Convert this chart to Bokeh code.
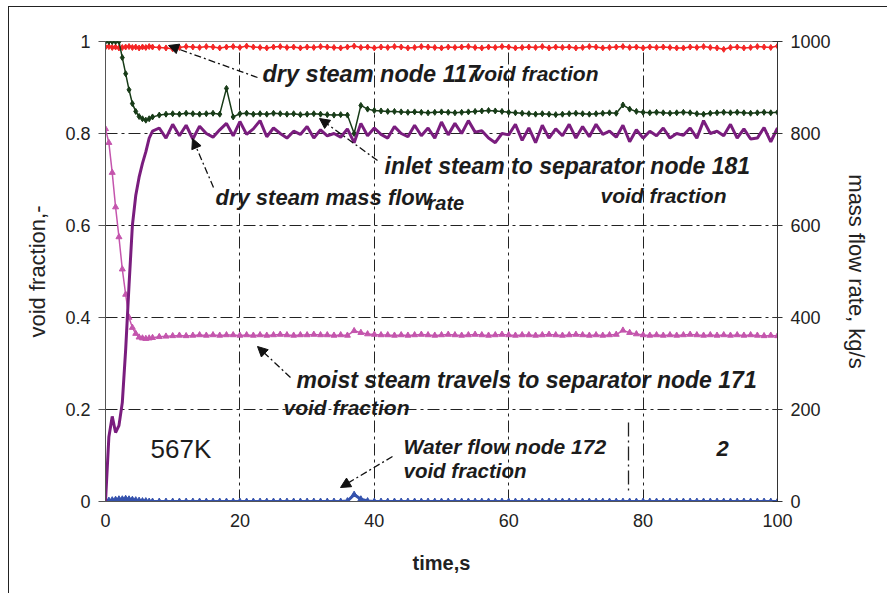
from bokeh.plotting import figure
from bokeh.models import (Range1d, LinearAxis, FixedTicker, NumeralTickFormatter,
                          Label, Arrow, NormalHead, ColumnDataSource)
from bokeh.embed import file_html
from bokeh.resources import INLINE

# ---------------- data ----------------
time_s = [0, 0.5, 1, 1.5, 2, 2.5, 3, 3.5, 4, 4.5,
          5, 5.5, 6, 6.5, 7, 8, 9, 10, 11, 12,
          13, 14, 15, 16, 17, 18, 19, 20, 21, 22,
          23, 24, 25, 26, 27, 28, 29, 30, 31, 32,
          33, 34, 35, 36, 37, 38, 39, 40, 41, 42,
          43, 44, 45, 46, 47, 48, 49, 50, 51, 52,
          53, 54, 55, 56, 57, 58, 59, 60, 61, 62,
          63, 64, 65, 66, 67, 68, 69, 70, 71, 72,
          73, 74, 75, 76, 77, 78, 79, 80, 81, 82,
          83, 84, 85, 86, 87, 88, 89, 90, 91, 92,
          93, 94, 95, 96, 97, 98, 99, 100]

dry_steam_117 = [.988, .989, .987, .988, .986, .987, .988, .989, .987, .988,
                 .986, .988, .987, .989, .988, .987, .986, .984, .987, .989,
                 .988, .987, .989, .988, .986, .988, .989, .987, .990, .988,
                 .987, .986, .988, .989, .987, .988, .986, .988, .987, .989,
                 .988, .987, .986, .988, .990, .987, .988, .986, .988, .987,
                 .989, .988, .986, .987, .989, .988, .987, .986, .988, .987,
                 .988, .989, .987, .986, .988, .987, .989, .988, .986, .987,
                 .988, .987, .989, .986, .988, .987, .988, .986, .987, .989,
                 .988, .986, .987, .988, .989, .987, .988, .986, .988, .987,
                 .988, .987, .986, .986, .988, .987, .989, .987, .986, .983,
                 .987, .988, .986, .987, .989, .988, .987, .990]

inlet_steam_181 = [1.0, 1.0, 1.0, 1.0, 1.0, .965, .930, .895, .865, .848,
                   .837, .832, .829, .832, .836, .840, .842, .843, .842, .844,
                   .843, .842, .843, .844, .842, .898, .836, .843, .844, .842,
                   .843, .842, .844, .843, .842, .843, .841, .842, .843, .842,
                   .841, .840, .841, .840, .800, .861, .853, .850, .849, .848,
                   .848, .847, .846, .847, .846, .845, .846, .847, .846, .845,
                   .846, .847, .848, .849, .850, .849, .848, .846, .845, .844,
                   .843, .842, .843, .842, .841, .842, .843, .844, .843, .842,
                   .843, .844, .845, .844, .862, .853, .848, .846, .845, .846,
                   .845, .844, .845, .846, .845, .843, .842, .844, .845, .846,
                   .845, .846, .845, .844, .845, .846, .845, .846]

moist_steam_171 = [.810, .780, .715, .640, .575, .505, .450, .400, .378, .365,
                   .357, .355, .354, .355, .356, .358, .359, .360, .361, .360,
                   .361, .362, .361, .362, .361, .362, .362, .361, .362, .361,
                   .362, .361, .362, .363, .362, .361, .362, .362, .363, .362,
                   .362, .361, .362, .361, .371, .367, .364, .363, .362, .362,
                   .361, .362, .361, .362, .363, .362, .361, .362, .363, .362,
                   .361, .362, .363, .362, .361, .362, .363, .362, .361, .362,
                   .362, .361, .362, .363, .362, .361, .362, .363, .362, .361,
                   .362, .361, .362, .363, .372, .367, .364, .362, .361, .362,
                   .361, .362, .361, .362, .363, .362, .361, .362, .361, .362,
                   .361, .362, .361, .362, .361, .360, .361, .360]

water_flow_172 = [0, .002, .003, .004, .005, .005, .006, .005, .004, .003,
                  .002, .001, .001, 0, 0, 0, 0, 0, 0, 0,
                  0, 0, 0, 0, 0, 0, 0, 0, 0, 0,
                  0, 0, 0, 0, 0, 0, 0, 0, 0, 0,
                  0, 0, 0, .001, .015, .005, .001, 0, 0, 0,
                  0, 0, 0, 0, 0, 0, 0, 0, 0, 0,
                  0, 0, 0, 0, 0, 0, 0, 0, 0, 0,
                  0, 0, 0, 0, 0, 0, 0, 0, 0, 0,
                  0, 0, 0, 0, 0, 0, 0, 0, 0, 0,
                  0, 0, 0, 0, 0, 0, 0, 0, 0, 0,
                  0, 0, 0, 0, 0, 0, 0, 0]

dry_steam_mass_flow = [0, 140, 185, 150, 165, 215, 330, 470, 600, 665,
                       705, 735, 760, 790, 805, 812, 790, 820, 795, 818,
                       788, 816, 800, 792, 808, 822, 795, 826, 798, 810,
                       828, 793, 812, 800, 790, 805, 798, 815, 790, 808,
                       795, 800, 792, 810, 780, 822, 795, 812, 798, 790,
                       815, 800, 793, 818, 795, 812, 790, 825, 797, 822,
                       800, 828, 803, 806, 790, 780, 800, 797, 820, 785,
                       812, 780, 818, 790, 810, 795, 820, 790, 815, 793,
                       820, 798, 805, 792, 818, 782, 808, 790, 805, 795,
                       812, 790, 800, 796, 812, 790, 828, 800, 805, 795,
                       820, 790, 810, 788, 790, 813, 782, 812]

x_ticks = [0, 20, 40, 60, 80, 100]
vf_ticks = [0, 0.2, 0.4, 0.6, 0.8, 1.0]
flow_ticks = [0, 200, 400, 600, 800, 1000]

# ---------------- figure ----------------
FONT = "Liberation Sans"
W, H = 879, 587
OX, OY = 9, 7                      # page offset of the figure
FL, FR, FT, FB = 105, 777, 41, 501  # plot frame on the page

p = figure(width=W, height=H, output_backend="svg", toolbar_location=None,
           x_range=Range1d(0, 100), y_range=Range1d(0, 1),
           min_border_left=FL - OX, min_border_right=W - (FR - OX),
           min_border_top=FT - OY, min_border_bottom=H - (FB - OY),
           background_fill_color="white", border_fill_color="white",
           styles={"margin-left": "8px", "margin-top": "6px",
                   "border-left": "1px solid #222", "border-top": "1px solid #222"})
p.extra_y_ranges = {"flow": Range1d(0, 1000)}
p.outline_line_color = "#888888"
p.outline_line_width = 1

def px(xp):
    return (xp - FL) / (FR - FL) * 100.0

def py(yp):
    return (FB - yp) / (FB - FT)

# axes
p.xaxis.ticker = FixedTicker(ticks=x_ticks)
p.yaxis.ticker = FixedTicker(ticks=vf_ticks)
p.yaxis.formatter = NumeralTickFormatter(format="0.[0]")
for ax in (p.xaxis[0], p.yaxis[0]):
    ax.axis_line_color = "#555555"
    ax.major_tick_line_color = "#555555"
    ax.minor_tick_line_color = None
    ax.major_label_text_font = FONT
    ax.major_label_text_font_size = "18px"
    ax.major_label_text_color = "#222222"
    ax.axis_label_text_font = FONT
    ax.axis_label_text_color = "#222222"
p.xaxis.major_tick_in = 0
p.xaxis.major_tick_out = 0
p.xaxis.major_label_standoff = 12
p.xaxis.axis_label = "time,s"
p.xaxis.axis_label_text_font_style = "bold"
p.xaxis.axis_label_text_font_size = "20px"
p.xaxis.axis_label_standoff = 22
p.yaxis.major_tick_in = 0
p.yaxis.major_tick_out = 7
p.yaxis.major_label_standoff = 8
p.yaxis.axis_label = "void fraction,-"
p.yaxis.axis_label_text_font_style = "normal"
p.yaxis.axis_label_text_font_size = "22px"
p.yaxis.axis_label_standoff = 12

rax = LinearAxis(y_range_name="flow", ticker=FixedTicker(ticks=flow_ticks),
                 axis_label="mass flow rate, kg/s")
rax.axis_line_color = "#333333"
rax.major_tick_line_color = "#333333"
rax.minor_tick_line_color = None
rax.major_tick_in = 5
rax.major_tick_out = 5
rax.major_label_standoff = 8
rax.major_label_text_font = FONT
rax.major_label_text_font_size = "18px"
rax.major_label_text_color = "#222222"
rax.axis_label_text_font = FONT
rax.axis_label_text_font_size = "22px"
rax.axis_label_text_font_style = "normal"
rax.axis_label_text_color = "#222222"
rax.axis_label_standoff = 10
p.add_layout(rax, "right")

# grid
p.xgrid.ticker = FixedTicker(ticks=[20, 40, 60, 80])
p.ygrid.ticker = FixedTicker(ticks=[0.2, 0.4, 0.6, 0.8])
for g in (p.xgrid[0], p.ygrid[0]):
    g.grid_line_color = "#222222"
    g.grid_line_dash = "12 4 3 4"
    g.grid_line_width = 1

src = ColumnDataSource(dict(t=time_s, red=dry_steam_117, green=inlet_steam_181,
                            pink=moist_steam_171, blue=water_flow_172,
                            purple=dry_steam_mass_flow))

# series
p.line("t", "blue", source=src, line_color="#3552ad", line_width=3)
p.scatter("t", "blue", source=src, marker="triangle", size=6, color="#3552ad")

p.line("t", "pink", source=src, line_color="#c455ad", line_width=1.5)
p.scatter("t", "pink", source=src, marker="triangle", size=6, color="#c455ad")

p.line("t", "red", source=src, line_color="#f52525", line_width=1.5)
p.scatter("t", "red", source=src, marker="diamond", size=6, color="#f52525")

p.line("t", "green", source=src, line_color="#173b17", line_width=1.5)
p.scatter("t", "green", source=src, marker="diamond", size=6, color="#173b17")

p.line("t", "purple", source=src, y_range_name="flow", line_color="#7a1d7e",
       line_width=3)

# separator mark near the "2"
p.segment(x0=[px(628)], y0=[py(422)], x1=[px(628)], y1=[py(493)],
          line_color="#222222", line_width=1.3, line_dash="14 4 2 4")

# annotation texts: (text, left px, centre y px, font px)
notes = [
    ("dry steam node 117", 262, 73, 23.5),
    ("void fraction", 472, 73, 21),
    ("inlet steam to separator node 181", 384, 165, 23),
    ("void fraction", 600, 195, 21),
    ("dry steam mass flow", 215, 197, 22),
    ("rate", 427, 202, 20),
    ("moist steam travels to separator node 171", 296, 379, 23),
    ("void fraction", 283, 407, 21),
    ("Water flow node 172", 403, 446, 21),
    ("void fraction", 403, 470, 20.5),
]
for txt, xl, yc, fs in notes:
    p.add_layout(Label(x=px(xl), y=py(yc), text=txt, text_font=FONT,
                       text_font_style="bold italic", text_font_size=f"{fs}px",
                       text_color="#1c1c1c", text_align="left",
                       text_baseline="middle"))

p.add_layout(Label(x=px(150), y=py(448), text="567K", text_font=FONT,
                   text_font_size="26px", text_color="#1c1c1c",
                   text_align="left", text_baseline="middle"))
p.add_layout(Label(x=px(722), y=py(448), text="2", text_font=FONT,
                   text_font_style="bold italic", text_font_size="22px",
                   text_color="#1c1c1c", text_align="center",
                   text_baseline="middle"))

# arrows (tail -> head), page pixels
arrows = [
    (257, 77, 168, 45),
    (377, 160, 319, 118),
    (213, 187, 192, 138),
    (290, 377, 257, 346),
    (392, 456, 340, 487),
]
for x0, y0, x1, y1 in arrows:
    p.add_layout(Arrow(x_start=px(x0), y_start=py(y0), x_end=px(x1), y_end=py(y1),
                       line_color="#111111", line_width=1.3, line_dash="7 3 2 3",
                       end=NormalHead(size=10, fill_color="#111111",
                                      line_color="#111111", line_width=1)))

open("out.html", "w").write(file_html(p, INLINE))
